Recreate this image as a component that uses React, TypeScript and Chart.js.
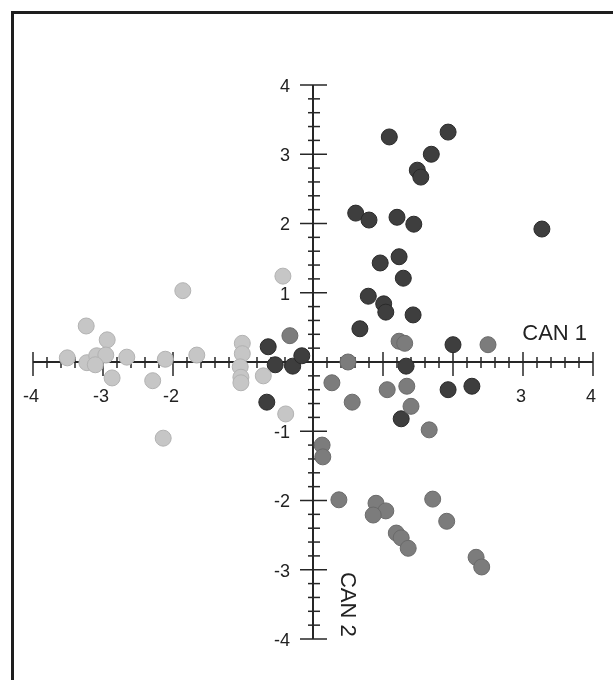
import React, { useEffect, useRef } from "react";
import { Chart, registerables } from "chart.js";

Chart.register(...registerables);

// Group 1 (dark)
const darkX = [1.09, 1.93, 1.69, 1.49, 1.54, 0.61, 0.80, 1.20, 1.44, 3.27, 0.96, 1.23, 1.29, 0.79, 1.01, 1.04, 1.43, 0.67, 2.00, 1.33, 1.93, 2.27, 1.26, -0.64, -0.54, -0.29, -0.16, -0.66];
const darkY = [3.25, 3.32, 3.00, 2.77, 2.67, 2.15, 2.05, 2.09, 1.99, 1.92, 1.43, 1.52, 1.21, 0.95, 0.84, 0.72, 0.68, 0.48, 0.25, -0.06, -0.40, -0.35, -0.82, 0.22, -0.04, -0.06, 0.09, -0.58];

// Group 2 (medium grey)
const mediumX = [-0.33, 2.50, 1.23, 1.31, 0.50, 0.27, 0.56, 1.06, 1.34, 1.40, 1.66, 0.13, 0.14, 0.37, 0.90, 1.04, 0.86, 1.19, 1.26, 1.36, 1.71, 1.91, 2.33, 2.41];
const mediumY = [0.38, 0.25, 0.30, 0.27, 0.00, -0.30, -0.58, -0.40, -0.35, -0.64, -0.98, -1.20, -1.37, -1.99, -2.04, -2.15, -2.21, -2.47, -2.54, -2.69, -1.98, -2.30, -2.82, -2.96];

// Group 3 (light grey)
const lightX = [-0.43, -1.86, -3.24, -2.94, -3.51, -3.23, -3.09, -2.96, -3.11, -2.66, -2.87, -2.29, -2.11, -1.66, -2.14, -1.01, -1.01, -1.04, -1.03, -1.03, -0.71, -0.39];
const lightY = [1.24, 1.03, 0.52, 0.32, 0.06, -0.01, 0.09, 0.10, -0.04, 0.07, -0.23, -0.27, 0.04, 0.10, -1.10, 0.27, 0.12, -0.07, -0.22, -0.30, -0.20, -0.75];

// Axis labels
const xTickLabels = [-4, -3, -2, 3, 4];
const yTickLabels = [4, 3, 2, 1, -1, -2, -3, -4];
const xAxisTitle = "CAN 1";
const yAxisTitle = "CAN 2";

const toPoints = (xs: number[], ys: number[]) => xs.map((x, i) => ({ x, y: ys[i] }));

const FONT = '"Liberation Sans", Arial, sans-serif';

const crossAxesPlugin = {
  id: "crossAxes",
  beforeDatasetsDraw(chart: any) {
    const { ctx, scales } = chart;
    const xs = scales.x;
    const ys = scales.y;
    const x0 = xs.getPixelForValue(0);
    const y0 = ys.getPixelForValue(0);
    const xMin = xs.getPixelForValue(-4);
    const xMax = xs.getPixelForValue(4);
    const yTop = ys.getPixelForValue(4);
    const yBot = ys.getPixelForValue(-4);
    ctx.save();
    ctx.strokeStyle = "#262626";
    ctx.lineWidth = 2;
    // axis lines
    ctx.beginPath();
    ctx.moveTo(xMin, y0);
    ctx.lineTo(xMax, y0);
    ctx.moveTo(x0, yTop);
    ctx.lineTo(x0, yBot);
    ctx.stroke();
    // ticks
    ctx.lineWidth = 1.5;
    for (let i = -20; i <= 20; i++) {
      if (i === 0) continue;
      const v = i / 5;
      const major = i % 5 === 0;
      // x-axis ticks
      const px = xs.getPixelForValue(v);
      ctx.beginPath();
      if (major) {
        ctx.moveTo(px, y0 - 10);
        ctx.lineTo(px, y0 + 14);
      } else {
        ctx.moveTo(px, y0 - 5);
        ctx.lineTo(px, y0 + 6);
      }
      ctx.stroke();
      // y-axis ticks
      const py = ys.getPixelForValue(v);
      ctx.beginPath();
      if (major) {
        ctx.moveTo(x0 - 13, py);
        ctx.lineTo(x0 + 14, py);
      } else {
        ctx.moveTo(x0 - 5, py);
        ctx.lineTo(x0 + 7, py);
      }
      ctx.stroke();
    }
    // tick labels
    ctx.fillStyle = "#222";
    ctx.font = `18px ${FONT}`;
    ctx.textAlign = "center";
    ctx.textBaseline = "middle";
    xTickLabels.forEach((v) => {
      ctx.fillText(String(v), xs.getPixelForValue(v) - 2, y0 + 35);
    });
    ctx.textAlign = "right";
    yTickLabels.forEach((v) => {
      ctx.fillText(String(v), x0 - 23, ys.getPixelForValue(v) + 2);
    });
    // axis titles
    ctx.font = `22px ${FONT}`;
    ctx.textAlign = "left";
    ctx.textBaseline = "middle";
    ctx.fillText(xAxisTitle, xs.getPixelForValue(2.99), y0 - 28);
    ctx.save();
    ctx.translate(x0 + 34, ys.getPixelForValue(-3.5));
    ctx.rotate(Math.PI / 2);
    ctx.textAlign = "center";
    ctx.fillText(yAxisTitle, 0, 0);
    ctx.restore();
    ctx.restore();
  },
};

export default function App() {
  const ref = useRef<HTMLCanvasElement>(null);
  useEffect(() => {
    if (!ref.current) return;
    const mk = (data: any[], fill: string, border: string) => ({
      data,
      backgroundColor: fill,
      borderColor: border,
      borderWidth: 1,
      pointRadius: 8,
      pointHoverRadius: 8,
    });
    const chart = new Chart(ref.current, {
      type: "scatter",
      data: {
        datasets: [
          mk(toPoints(lightX, lightY), "#c6c6c6", "#b2b2b2"),
          mk(toPoints(mediumX, mediumY), "#7c7c7c", "#6a6a6a"),
          mk(toPoints(darkX, darkY), "#3e3e3e", "#2a2a2a"),
        ],
      },
      options: {
        responsive: false,
        animation: false,
        layout: { padding: { left: 33, right: 20, top: 85, bottom: 41 } },
        plugins: { legend: { display: false }, tooltip: { enabled: false } },
        scales: {
          x: { type: "linear", min: -4, max: 4, display: false },
          y: { type: "linear", min: -4, max: 4, display: false },
        },
      },
      plugins: [crossAxesPlugin],
    });
    return () => chart.destroy();
  }, []);
  return (
    <div style={{ position: "absolute", left: 0, top: 0, width: 613, height: 680, background: "#fff", overflow: "hidden" }}>
      <canvas ref={ref} width={613} height={680} style={{ position: "absolute", left: 0, top: 0, display: "block" }} />
      <div
        style={{
          position: "absolute",
          left: 11,
          top: 11,
          right: 0,
          bottom: 0,
          borderTop: "3px solid #1e1e1e",
          borderLeft: "3px solid #1e1e1e",
          pointerEvents: "none",
        }}
      />
    </div>
  );
}
